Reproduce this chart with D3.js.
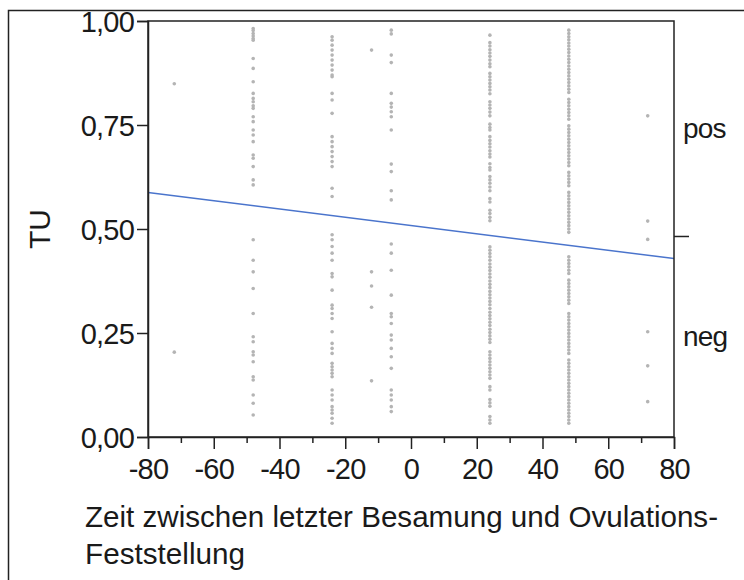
<!DOCTYPE html>
<html>
<head>
<meta charset="utf-8">
<script src="https://cdn.jsdelivr.net/npm/d3@7"></script>
<style>
  body { margin: 0; background: #fff; }
  text { font-family: "Liberation Sans", Arial, sans-serif; fill: #1a1a1a; }
</style>
</head>
<body>
<script>
// données
const xTicks = [-80, -60, -40, -20, 0, 20, 40, 60, 80];
const xMinorTicks = [-70, -50, -30, -10, 10, 30, 50, 70];
const yTicks = [0, 0.25, 0.5, 0.75, 1];
const yTickLabels = ["0,00", "0,25", "0,50", "0,75", "1,00"];
const categories = ["pos", "neg"];
const categoryY = [0.74, 0.24];   // position des étiquettes à droite
const splitTU = 0.482;            // trait entre pos et neg

// droite logistique (début, fin)
const fitX = [-80, 80];
const fitY = [0.588, 0.429];

// points par colonne (temps en h)
const tuM72 = [0.849, 0.204];
const tuM48 = [0.982, 0.977, 0.970, 0.964, 0.958, 0.954, 0.910, 0.886, 0.854, 0.826, 0.814, 0.806, 0.796, 0.790,
  0.770, 0.758, 0.738, 0.726, 0.710, 0.678, 0.670, 0.650, 0.618, 0.606,
  0.474, 0.425, 0.397, 0.357, 0.297, 0.241, 0.229, 0.205, 0.197, 0.181, 0.145, 0.137, 0.101, 0.081, 0.053];
const tuM24 = [0.962, 0.954, 0.942, 0.930, 0.918, 0.906, 0.894, 0.882, 0.870, 0.866, 0.826, 0.810, 0.778,
  0.722, 0.710, 0.698, 0.686, 0.674, 0.662, 0.650, 0.598, 0.578,
  0.486, 0.474, 0.458, 0.442, 0.425, 0.393, 0.385, 0.353, 0.317, 0.309, 0.297, 0.285, 0.253, 0.225, 0.213,
  0.201, 0.177, 0.169, 0.161, 0.153, 0.145, 0.113, 0.101, 0.089, 0.073, 0.065, 0.057, 0.045, 0.033];
const tuM12 = [0.930, 0.397, 0.363, 0.312, 0.135];
const tuM6 = [0.978, 0.969, 0.918, 0.900, 0.826, 0.802, 0.793, 0.782, 0.770, 0.738, 0.656, 0.638, 0.592, 0.570,
  0.464, 0.442, 0.401, 0.341, 0.297, 0.289, 0.273, 0.245, 0.233, 0.213, 0.193, 0.165, 0.113, 0.101, 0.089,
  0.073, 0.061];
const tuP24 = [0.966, 0.948, 0.940, 0.931, 0.923, 0.915, 0.906, 0.897, 0.890, 0.874, 0.866, 0.858, 0.850, 0.842,
  0.834, 0.825, 0.806, 0.798, 0.790, 0.781, 0.772, 0.752, 0.744, 0.738, 0.722, 0.713, 0.705, 0.697, 0.688,
  0.680, 0.673, 0.657, 0.648, 0.642, 0.626, 0.618, 0.610, 0.601, 0.592, 0.573, 0.565, 0.545, 0.537, 0.528, 0.520,
  0.457, 0.449, 0.441, 0.433, 0.425, 0.416, 0.408, 0.400, 0.392, 0.384, 0.375, 0.367, 0.359, 0.350, 0.342,
  0.334, 0.326, 0.318, 0.309, 0.300, 0.292, 0.284, 0.276, 0.268, 0.259, 0.251, 0.243, 0.235, 0.227, 0.205,
  0.197, 0.189, 0.181, 0.173, 0.165, 0.157, 0.149, 0.141, 0.121, 0.113, 0.090, 0.082, 0.074, 0.049, 0.041, 0.033];
const tuP48 = [0.978, 0.970, 0.962, 0.955, 0.947, 0.940, 0.932, 0.924, 0.916, 0.908, 0.900, 0.892, 0.884, 0.876,
  0.868, 0.860, 0.852, 0.844, 0.836, 0.828, 0.812, 0.804, 0.796, 0.788, 0.780, 0.772, 0.764, 0.748, 0.740,
  0.732, 0.724, 0.716, 0.708, 0.700, 0.692, 0.684, 0.676, 0.668, 0.660, 0.652, 0.636, 0.628, 0.620, 0.612,
  0.604, 0.588, 0.580, 0.572, 0.564, 0.556, 0.548, 0.540, 0.532, 0.524, 0.516, 0.508, 0.500, 0.492,
  0.433, 0.425, 0.417, 0.409, 0.401, 0.393, 0.377, 0.369, 0.361, 0.353, 0.345, 0.337, 0.329, 0.321, 0.297,
  0.289, 0.281, 0.273, 0.265, 0.257, 0.249, 0.241, 0.233, 0.225, 0.217, 0.209, 0.201, 0.185, 0.177, 0.169,
  0.161, 0.153, 0.145, 0.137, 0.129, 0.121, 0.113, 0.105, 0.097, 0.089, 0.081, 0.073, 0.065, 0.057, 0.049,
  0.041, 0.033];
const tuP72 = [0.772, 0.519, 0.475, 0.253, 0.171, 0.085];

const colX = [-72, -48, -24, -12, -6, 24, 48, 72];
const colTU = [tuM72, tuM48, tuM24, tuM12, tuM6, tuP24, tuP48, tuP72];

const points = [];
colX.forEach((x, i) => {
  colTU[i].forEach(tu => points.push({ x: x, tu: tu }));
});

const width = 744, height = 580;
const margin = { top: 21, right: 70, bottom: 143, left: 148 };

const svg = d3.select("body").append("svg")
  .attr("width", width)
  .attr("height", height);

const echelleX = d3.scaleLinear().domain([-80, 80]).range([margin.left, width - margin.right]);
const echelleY = d3.scaleLinear().domain([0, 1]).range([height - margin.bottom, margin.top]);

// cadre extérieur (haut + gauche)
svg.append("path")
  .attr("d", `M8.5,${height} V10.5 H${width}`)
  .attr("fill", "none")
  .attr("stroke", "#222")
  .attr("stroke-width", 1.5);

// points
svg.append("g")
  .selectAll("circle")
  .data(points)
  .join("circle")
  .attr("cx", d => echelleX(d.x))
  .attr("cy", d => echelleY(d.tu))
  .attr("r", 1.8)
  .attr("fill", "#b4b4b4");

// droite
svg.append("path")
  .datum(fitX.map((x, i) => [x, fitY[i]]))
  .attr("d", d3.line().x(d => echelleX(d[0])).y(d => echelleY(d[1])))
  .attr("fill", "none")
  .attr("stroke", "#4a74cc")
  .attr("stroke-width", 1.5);

// cadre du graphique
svg.append("rect")
  .attr("x", echelleX(-80))
  .attr("y", echelleY(1))
  .attr("width", echelleX(80) - echelleX(-80))
  .attr("height", echelleY(0) - echelleY(1))
  .attr("fill", "none")
  .attr("stroke", "#222")
  .attr("stroke-width", 1.5);

// axe X
const axeX = svg.append("g")
  .attr("transform", `translate(0,${echelleY(0)})`)
  .call(d3.axisBottom(echelleX).tickValues(xTicks).tickSize(12).tickFormat(d => d));
svg.append("g")
  .attr("transform", `translate(0,${echelleY(0)})`)
  .call(d3.axisBottom(echelleX).tickValues(xMinorTicks).tickSize(6).tickFormat(""))
  .call(g => g.select(".domain").remove());

// axe Y
const axeY = svg.append("g")
  .attr("transform", `translate(${echelleX(-80)},0)`)
  .call(d3.axisLeft(echelleY).tickValues(yTicks).tickSize(11).tickFormat((d, i) => yTickLabels[i]));

svg.selectAll(".tick line, .domain").attr("stroke", "#222").attr("stroke-width", 1.5);
axeX.selectAll("text").attr("font-size", 29).attr("dy", "0.93em").attr("fill", "#111")
  .attr("font-family", "Liberation Sans").attr("letter-spacing", -0.8);
axeY.selectAll("text").attr("font-size", 29).attr("dy", "0.36em").attr("x", -14).attr("fill", "#111")
  .attr("font-family", "Liberation Sans").attr("letter-spacing", -0.8);

// axe de droite (catégories)
svg.append("line")
  .attr("x1", echelleX(80)).attr("x2", echelleX(80) + 15)
  .attr("y1", echelleY(splitTU)).attr("y2", echelleY(splitTU))
  .attr("stroke", "#222").attr("stroke-width", 1.5);
svg.selectAll(".cat")
  .data(categories)
  .join("text")
  .attr("class", "cat")
  .attr("x", echelleX(80) + 9)
  .attr("y", (d, i) => echelleY(categoryY[i]))
  .attr("dy", "0.3em")
  .attr("font-size", 28)
  .attr("letter-spacing", -0.8)
  .attr("fill", "#111")
  .text(d => d);

// titres
svg.append("text")
  .attr("transform", `translate(50,${echelleY(0.5)}) rotate(-90)`)
  .attr("text-anchor", "middle")
  .attr("font-size", 30)
  .attr("fill", "#111")
  .text("TU");

svg.append("text")
  .attr("x", 85).attr("y", 527)
  .attr("font-size", 30)
  .attr("fill", "#111")
  .attr("textLength", 633)
  .attr("lengthAdjust", "spacingAndGlyphs")
  .text("Zeit zwischen letzter Besamung und Ovulations-");
svg.append("text")
  .attr("x", 85).attr("y", 564)
  .attr("font-size", 30)
  .attr("fill", "#111")
  .attr("textLength", 160)
  .attr("lengthAdjust", "spacingAndGlyphs")
  .text("Feststellung");
</script>
</body>
</html>
